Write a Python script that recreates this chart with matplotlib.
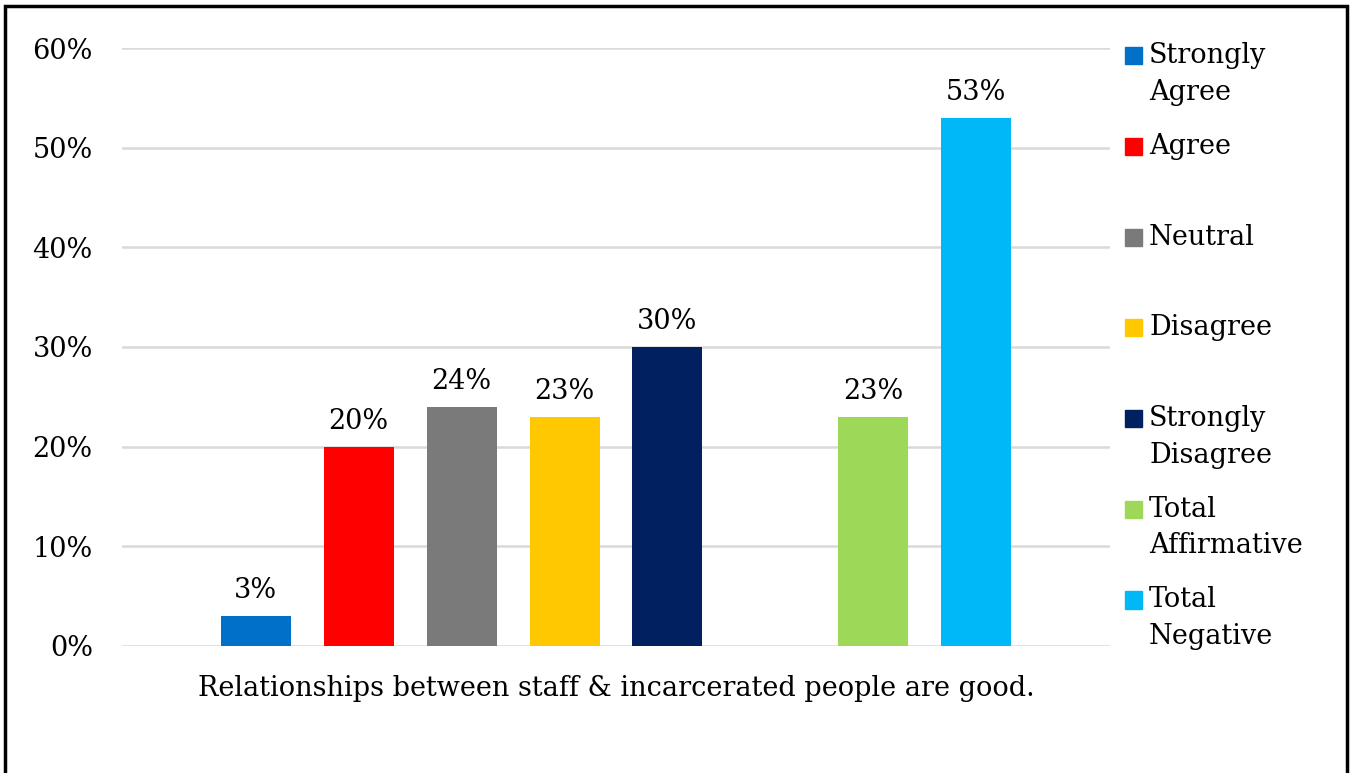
import matplotlib.pyplot as plt
from matplotlib.patches import Rectangle
from matplotlib.ticker import PercentFormatter

# data
labels = ["Strongly\nAgree", "Agree", "Neutral", "Disagree",
          "Strongly\nDisagree", "Total\nAffirmative", "Total\nNegative"]
values = [3, 20, 24, 23, 30, 23, 53]
positions = [0, 1, 2, 3, 4, 6, 7]
colors = ["#0070c8", "#ff0000", "#7a7a7a", "#ffc800",
          "#002060", "#9ed858", "#00b8f8"]
yticks = [0, 10, 20, 30, 40, 50, 60]
xlabel = "Relationships between staff & incarcerated people are good."

plt.rcParams['font.family'] = ['DejaVu Serif']
fs = 19.5

fig = plt.figure(figsize=(13.52, 7.73), dpi=100)
ax = fig.add_axes([0.0902, 0.1643, 0.7308, 0.7736])

for p, v, c in zip(positions, values, colors):
    ax.bar(p, v, width=0.68, color=c, zorder=3)
    ax.text(p, v + 1.2, f"{v}%", ha="center", va="bottom", fontsize=fs)

ax.set_xlim(-1.3, 8.3)
ax.set_ylim(0, 60)
ax.set_yticks(yticks)
ax.yaxis.set_major_formatter(PercentFormatter(decimals=0))
ax.tick_params(axis="y", length=0, pad=21, labelsize=fs)
ax.set_xticks([])
ax.grid(axis="y", color="#d9d9d9", linewidth=1.8, zorder=0)
for s in ax.spines.values():
    s.set_visible(False)
ax.set_xlabel(xlabel, fontsize=fs, labelpad=21)

# legend drawn by hand so handles sit evenly spaced like the original
for i, (lab, c) in enumerate(zip(labels, colors)):
    y = 0.9276 - i * 0.1173
    fig.patches.append(Rectangle((0.8321, y - 0.011), 0.0126, 0.022,
                                 transform=fig.transFigure, color=c))
    fig.text(0.8499, y + 0.0175, lab, ha="left", va="top", fontsize=fs,
             linespacing=1.45, transform=fig.transFigure)

# outer frame
fig.patches.append(Rectangle((0.004, -0.02), 0.992, 1.012,
                             transform=fig.transFigure, fill=False,
                             edgecolor="black", linewidth=2.5))

fig.savefig("out.png", dpi=100)
